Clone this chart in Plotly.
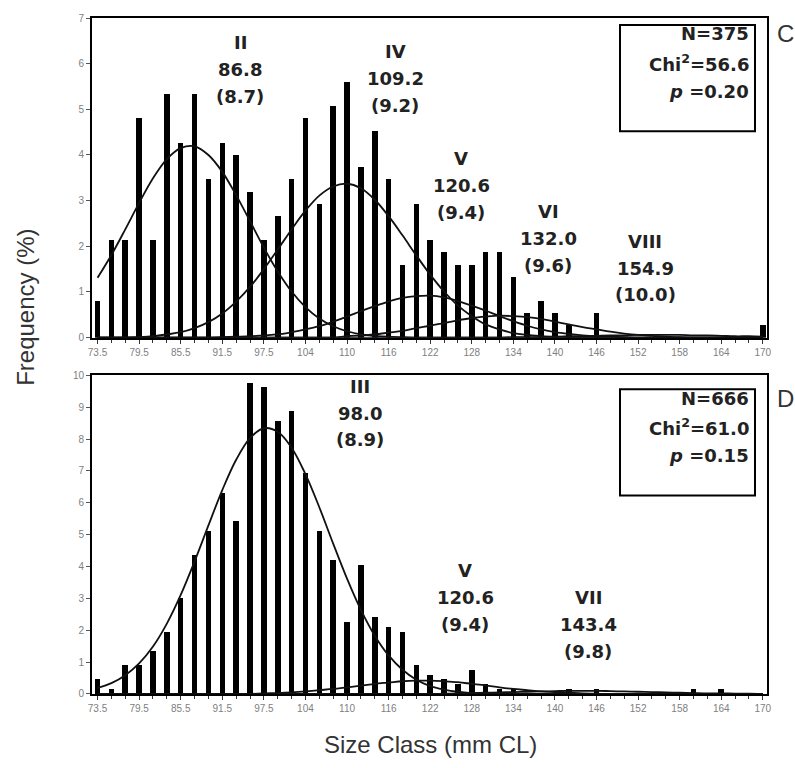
import plotly.graph_objects as go

# ---------------- data ----------------
size_ticks = ["73.5", "79.5", "85.5", "91.5", "97.5", "104", "110", "116", "122",
              "128", "134", "140", "146", "152", "158", "164", "170"]
n_classes = 49  # 2-mm size classes from 73.5 to 169.5

# Panel C frequencies (%)
freq_C = [0.80, 2.13, 2.13, 4.80, 2.13, 5.33, 4.27, 5.33, 3.47, 4.27,
          4.00, 3.20, 2.13, 2.67, 3.47, 4.80, 2.93, 5.07, 5.60, 3.73,
          4.53, 3.47, 1.60, 2.93, 2.13, 1.87, 1.60, 1.60, 1.87, 1.87,
          1.33, 0.53, 0.80, 0.53, 0.27, 0.00, 0.53, 0.00, 0.00, 0.00,
          0.00, 0.00, 0.00, 0.00, 0.00, 0.00, 0.00, 0.00, 0.27]

# Panel D frequencies (%)
freq_D = [0.45, 0.15, 0.90, 0.90, 1.35, 1.95, 3.00, 4.35, 5.11, 6.31,
          5.41, 9.76, 9.61, 8.56, 8.86, 6.91, 5.11, 4.20, 2.25, 4.05,
          2.40, 2.10, 1.95, 0.90, 0.60, 0.45, 0.30, 0.75, 0.30, 0.15,
          0.15, 0.00, 0.00, 0.00, 0.15, 0.00, 0.15, 0.00, 0.00, 0.00,
          0.00, 0.00, 0.00, 0.15, 0.00, 0.15, 0.00, 0.00, 0.00]

# fitted component curves (value at each size class)
curve_C_II = [1.31, 1.81, 2.37, 2.95, 3.49, 3.91, 4.15, 4.19, 4.00, 3.63,
              3.12, 2.55, 1.97, 1.45, 1.01, 0.67, 0.42, 0.25, 0.14, 0.07,
              0.04, 0.02, 0.01] + [0.0] * 26
curve_C_IV = [0.00, 0.00, 0.00, 0.01, 0.03, 0.07, 0.12, 0.21, 0.34, 0.53,
              0.79, 1.11, 1.50, 1.93, 2.37, 2.78, 3.11, 3.31, 3.37, 3.27,
              3.02, 2.66, 2.24, 1.80, 1.38, 1.01, 0.70, 0.47, 0.29, 0.18,
              0.10, 0.06, 0.03, 0.02, 0.01] + [0.0] * 14
curve_C_V = [0.0] * 9 + [0.01, 0.02, 0.03, 0.05, 0.07, 0.12, 0.18, 0.25, 0.35,
                         0.46, 0.58, 0.69, 0.79, 0.87, 0.91, 0.92, 0.88, 0.80,
                         0.70, 0.59, 0.47, 0.36, 0.26, 0.18, 0.12, 0.08, 0.05,
                         0.03, 0.02, 0.01] + [0.0] * 10
curve_C_VI = [0.0] * 18 + [0.03, 0.05, 0.07, 0.11, 0.15, 0.21, 0.26, 0.32, 0.38,
                           0.43, 0.46, 0.48, 0.47, 0.45, 0.41, 0.35, 0.29, 0.23,
                           0.18, 0.13, 0.09, 0.06, 0.04, 0.02, 0.01] + [0.0] * 6
curve_C_VIII = [0.0] * 30 + [0.01, 0.01, 0.01, 0.02, 0.03, 0.03, 0.04, 0.05, 0.05,
                             0.06, 0.06, 0.06, 0.06, 0.05, 0.05, 0.04, 0.03, 0.03,
                             0.02]

curve_D_III = [0.19, 0.34, 0.59, 0.96, 1.49, 2.21, 3.11, 4.16, 5.29, 6.40,
               7.35, 8.03, 8.34, 8.23, 7.73, 6.90, 5.86, 4.72, 3.62, 2.64,
               1.83, 1.21, 0.76, 0.45, 0.25, 0.14, 0.07, 0.03, 0.01] + [0.0] * 20
curve_D_V = [0.0] * 12 + [0.02, 0.03, 0.05, 0.08, 0.12, 0.16, 0.21, 0.26, 0.32,
                          0.36, 0.40, 0.42, 0.42, 0.40, 0.37, 0.32, 0.27, 0.21,
                          0.16, 0.12, 0.08, 0.06, 0.04, 0.02, 0.01] + [0.0] * 12
curve_D_VII = [0.0] * 25 + [0.01, 0.02, 0.03, 0.04, 0.05, 0.06, 0.07, 0.08, 0.09,
                            0.10, 0.10, 0.10, 0.09, 0.08, 0.07, 0.06, 0.05, 0.04,
                            0.03, 0.02, 0.02, 0.01, 0.01, 0.0]

labels_C = [("II", "86.8", "(8.7)", 240, 38),
            ("IV", "109.2", "(9.2)", 395, 47),
            ("V", "120.6", "(9.4)", 461, 155),
            ("VI", "132.0", "(9.6)", 548, 208),
            ("VIII", "154.9", "(10.0)", 645, 238)]
labels_D = [("III", "98.0", "(8.9)", 360, 384),
            ("V", "120.6", "(9.4)", 465, 570),
            ("VII", "143.4", "(9.8)", 588, 597)]
stats_C = ["N=375", "Chi<sup>2</sup>=56.6", "<i>p</i> =0.20"]
stats_D = ["N=666", "Chi<sup>2</sup>=61.0", "<i>p</i> =0.15"]

# ---------------- figure ----------------
W, H = 795, 768
ML, MR, MT, MB = 92, 28, 13, 74
PW, PH = W - ML - MR, H - MT - MB


def px(x):
    return (x - ML) / PW


def py(y):
    return (H - MB - y) / PH


idx = list(range(n_classes))
fig = go.Figure()

for freq, xa, ya in [(freq_C, "x", "y"), (freq_D, "x2", "y2")]:
    fig.add_trace(go.Bar(x=idx, y=freq, width=0.4, marker=dict(color="#000000", line=dict(width=0)),
                         xaxis=xa, yaxis=ya, showlegend=False))

for cv in [curve_C_II, curve_C_IV, curve_C_V, curve_C_VI, curve_C_VIII]:
    fig.add_trace(go.Scatter(x=idx, y=cv, mode="lines", line=dict(color="#111", width=1.8, shape="spline"),
                             xaxis="x", yaxis="y", showlegend=False))
for cv in [curve_D_III, curve_D_V, curve_D_VII]:
    fig.add_trace(go.Scatter(x=idx, y=cv, mode="lines", line=dict(color="#111", width=1.8, shape="spline"),
                             xaxis="x2", yaxis="y2", showlegend=False))

tickfont = dict(family="Liberation Sans, Arial", size=10, color="#808080")
tickvals = list(range(0, n_classes, 3))
xcommon = dict(range=[-0.4, 48.3], tickmode="array", tickvals=tickvals, ticktext=size_ticks,
               showline=True, linecolor="#000", linewidth=2, mirror=True, showgrid=False,
               zeroline=False, ticks="outside", ticklen=4, tickcolor="#333", tickfont=tickfont,
               minor=dict(tickmode="array", tickvals=idx, ticks="outside", ticklen=3, tickcolor="#333"))
ycommon = dict(showline=True, linecolor="#000", linewidth=2, mirror=True, showgrid=False,
               zeroline=False, ticks="outside", ticklen=4, tickcolor="#555", tickfont=tickfont, dtick=1)

top_bottom = py(335)
bot_top = py(373)
fig.update_layout(
    width=W, height=H,
    margin=dict(l=ML, r=MR, t=MT, b=MB),
    paper_bgcolor="white", plot_bgcolor="white",
    bargap=0,
    xaxis=dict(xcommon, anchor="y", domain=[0, 1]),
    yaxis=dict(ycommon, range=[0, 7], domain=[top_bottom, 1], anchor="x"),
    xaxis2=dict(xcommon, anchor="y2", domain=[0, 1]),
    yaxis2=dict(ycommon, range=[0, 10], domain=[0, bot_top], anchor="x2"),
)

lab_font = dict(family="DejaVu Sans", size=18, color="#222")
ann = []
for labels in (labels_C, labels_D):
    for roman, mean, sd, cx, cy in labels:
        for k, t in enumerate((roman, mean, sd)):
            ann.append(dict(text="<b>%s</b>" % t, x=px(cx), y=py(cy + 27 * k), xref="paper", yref="paper",
                            xanchor="center", yanchor="middle", showarrow=False, font=lab_font))

shapes = []
for stats, top, letter in ((stats_C, 20, "C"), (stats_D, 387, "D")):
    shapes.append(dict(type="rect", xref="paper", yref="paper", x0=px(620), x1=px(755),
                       y0=py(top), y1=py(top + 107), line=dict(color="#000", width=2), fillcolor="white",
                       layer="below"))
    for k, t in enumerate(stats):
        ann.append(dict(text="<b>%s</b>" % t, x=px(751), y=py(top + 9 + 29 * k), xref="paper", yref="paper",
                        xanchor="right", yanchor="middle", showarrow=False, font=lab_font))
    ann.append(dict(text=letter, x=px(775), y=py(top + 9), xref="paper", yref="paper",
                    xanchor="left", yanchor="middle", showarrow=False,
                    font=dict(family="Liberation Sans, Arial", size=24, color="#333")))

title_font = dict(family="Liberation Sans, Arial", size=24, color="#333")
ann.append(dict(text="Frequency (%)", x=px(26), y=py(305), xref="paper", yref="paper", textangle=-90,
                xanchor="center", yanchor="middle", showarrow=False, font=title_font))
ann.append(dict(text="Size Class (mm CL)", x=px(430), y=py(745), xref="paper", yref="paper",
                xanchor="center", yanchor="middle", showarrow=False, font=title_font))

fig.update_layout(annotations=ann, shapes=shapes)
fig.write_html("out.html")
